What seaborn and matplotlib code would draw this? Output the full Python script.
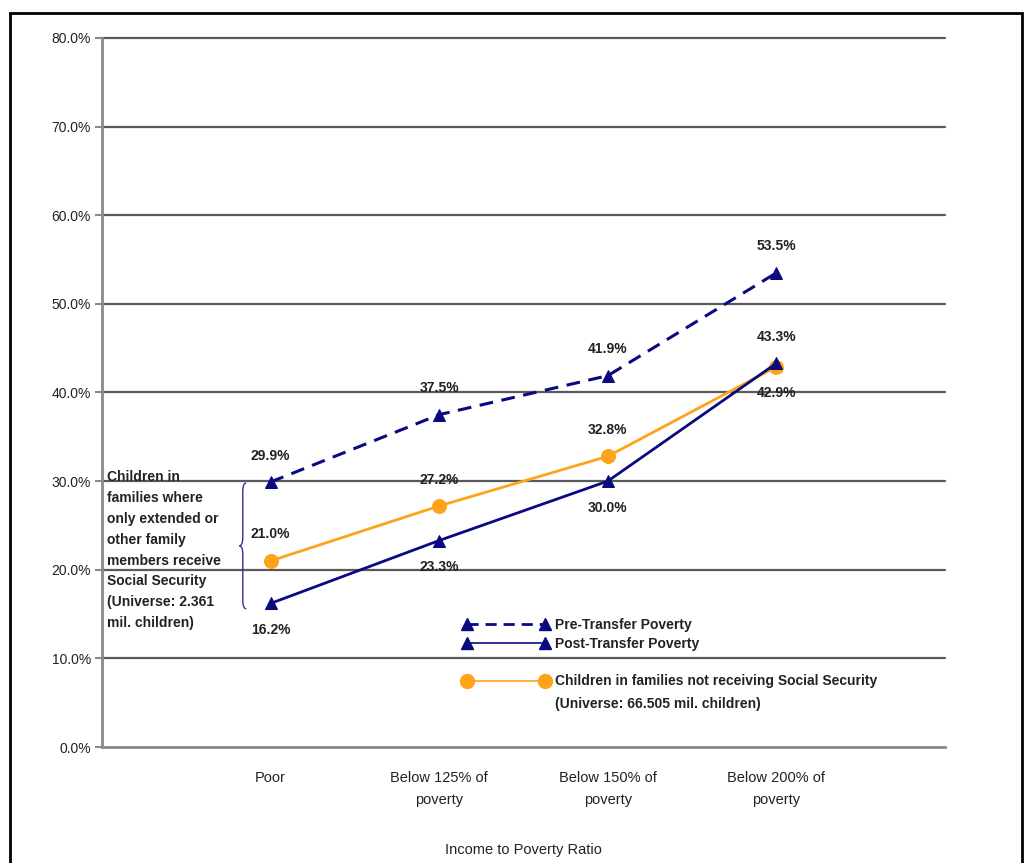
# Child poverty by income-to-poverty ratio
import pandas as pd
import matplotlib.pyplot as plt
import seaborn as sns
from matplotlib.lines import Line2D
from matplotlib.patches import Rectangle, PathPatch
from matplotlib.path import Path

categories = ["Poor", "Below 125% of\npoverty", "Below 150% of\npoverty", "Below 200% of\npoverty"]
pre_transfer = [29.9, 37.5, 41.9, 53.5]
post_transfer = [16.2, 23.3, 30.0, 43.3]
not_receiving = [21.0, 27.2, 32.8, 42.9]
y_ticks = [0, 10, 20, 30, 40, 50, 60, 70, 80]

# which side of the point each value label sits on (+1 above, -1 below)
pre_side = [1, 1, 1, 1]
post_side = [-1, -1, -1, 1]
orange_side = [1, 1, 1, -1]

navy = "#0a0a80"
orange = "#FFA31A"
grid_gray = "#5a5a5a"
axis_gray = "#8a8a8a"
text_col = "#222222"

sns.set_style("white")
plt.rcParams["font.family"] = ["Liberation Sans", "DejaVu Sans"]

pos = list(range(1, len(categories) + 1))
df = pd.DataFrame({"pos": pos, "pre": pre_transfer, "post": post_transfer, "orange": not_receiving})

fig = plt.figure(figsize=(10.31, 8.63), dpi=100)
ax = fig.add_axes([102 / 1031, 1 - 747 / 863, 843 / 1031, 709 / 863])

for y in y_ticks[1:]:
    ax.axhline(y, color=grid_gray, lw=1.6, zorder=0, clip_on=False)

sns.lineplot(data=df, x="pos", y="orange", ax=ax, color=orange, lw=2.0, marker="o", markersize=10,
             markeredgecolor=orange)
sns.lineplot(data=df, x="pos", y="pre", ax=ax, color=navy, lw=2.2, marker="^", markersize=9,
             markeredgecolor=navy)
ax.lines[-1].set_linestyle((0, (4.5, 2.8)))
sns.lineplot(data=df, x="pos", y="post", ax=ax, color=navy, lw=2.0, marker="^", markersize=9,
             markeredgecolor=navy)

for vals, side in [(pre_transfer, pre_side), (post_transfer, post_side), (not_receiving, orange_side)]:
    for p, v, s in zip(pos, vals, side):
        ax.annotate(f"{v:.1f}%", (p, v), xytext=(0, 19 * s), textcoords="offset points",
                    ha="center", va="center", fontsize=10, fontweight="bold", color=text_col)

# left annotation with brace
ax.text(0.03, 22.2, "Children in\nfamilies where\nonly extended or\nother family\nmembers receive\n"
        "Social Security\n(Universe: 2.361\nmil. children)", ha="left", va="center",
        fontsize=10, fontweight="bold", color=text_col, linespacing=1.62)
bx, by0, by1 = 0.835, 15.6, 29.8
bm = (by0 + by1) / 2
w = 0.04
verts = [(bx + w / 2, by1), (bx, by1), (bx, by1 - 1), (bx, bm + 1),
         (bx, bm), (bx - w / 2, bm), (bx - w / 2, bm),
         (bx, bm), (bx, bm - 1), (bx, by0 + 1), (bx, by0), (bx + w / 2, by0)]
codes = [Path.MOVETO, Path.CURVE3, Path.CURVE3, Path.LINETO, Path.CURVE3, Path.CURVE3,
         Path.MOVETO, Path.CURVE3, Path.CURVE3, Path.LINETO, Path.CURVE3, Path.CURVE3]
ax.add_patch(PathPatch(Path(verts, codes), fill=False, edgecolor="#3030a0", lw=1.0))

# legends
leg_kw = dict(loc="upper left", frameon=False, numpoints=2, handlelength=6.2, handletextpad=0.45,
              prop={"weight": "bold", "size": 10}, labelcolor=text_col)
h1 = [Line2D([0], [0], color=navy, lw=2.0, ls=(0, (4, 2.5)), marker="^", markersize=9),
      Line2D([0], [0], color=navy, lw=1.2, marker="^", markersize=9)]
leg1 = ax.legend(h1, ["Pre-Transfer Poverty", "Post-Transfer Poverty"], bbox_to_anchor=(0.413, 0.2),
                 labelspacing=0.35, **leg_kw)
ax.add_artist(leg1)
h2 = [Line2D([0], [0], color=orange, lw=1.2, marker="o", markersize=10)]
ax.legend(h2, ["Children in families not receiving Social Security"], bbox_to_anchor=(0.413, 0.12), **leg_kw)
fig.text(555 / 1031, 1 - 704 / 863, "(Universe: 66.505 mil. children)", fontsize=10, fontweight="bold",
         color=text_col, va="center", ha="left")

ax.set_xlim(0, 5)
ax.set_ylim(0, 80)
ax.set_yticks(y_ticks)
ax.set_yticklabels([f"{v:.1f}%" for v in y_ticks], fontsize=10, color=text_col)
ax.set_xticks(range(0, 6))
ax.set_xticklabels([""] + categories + [""], fontsize=10.5, color=text_col, linespacing=1.75)
ax.tick_params(axis="x", length=6, color=axis_gray, width=1.5, pad=11)
ax.tick_params(axis="y", length=5, color=axis_gray, width=1.5, pad=3, left=True)
ax.set_xlabel("Income to Poverty Ratio", fontsize=10.5, color=text_col, labelpad=26)
ax.set_ylabel("")
for s in ["top", "right"]:
    ax.spines[s].set_visible(False)
for s in ["left", "bottom"]:
    ax.spines[s].set_color(axis_gray)
    ax.spines[s].set_linewidth(2.0)

# outer frame
fig.patches.append(Rectangle((10 / 1031, -0.05), 1012 / 1031, 1.05 - 13 / 863, transform=fig.transFigure,
                             fill=False, edgecolor="black", lw=2.0))

fig.savefig("out.png", dpi=100)
